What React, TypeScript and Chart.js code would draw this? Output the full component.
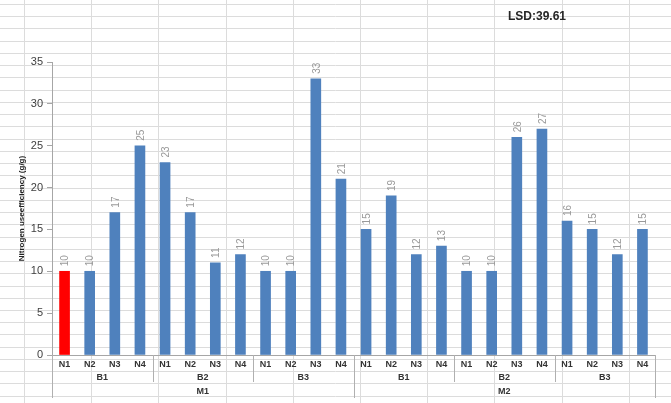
import React, { useEffect, useRef } from "react";
import { Chart, registerables } from "chart.js";

Chart.register(...registerables);

const nLabels = ["N1", "N2", "N3", "N4", "N1", "N2", "N3", "N4", "N1", "N2", "N3", "N4", "N1", "N2", "N3", "N4", "N1", "N2", "N3", "N4", "N1", "N2", "N3", "N4"];
const bLabels = ["B1", "B2", "B3", "B1", "B2", "B3"];
const mLabels = ["M1", "M2"];
const values = [10, 10, 17, 25, 23, 17, 11, 12, 10, 10, 33, 21, 15, 19, 12, 13, 10, 10, 26, 27, 16, 15, 12, 15];
const yTicks = [0, 5, 10, 15, 20, 25, 30, 35];
const lsdText = "LSD:39.61";
const yTitle = "Nitrogen useefficiency (g/g)";

const BLUE = "#4F81BD";
const RED = "#FF0000";

const sheetGrid = {
  id: "sheetGrid",
  beforeDraw(chart: any) {
    const { ctx, width, height } = chart;
    ctx.save();
    ctx.fillStyle = "#ffffff";
    ctx.fillRect(0, 0, width, height);
    ctx.strokeStyle = "#dcdcdc";
    ctx.lineWidth = 1;
    for (let y = 4; y < height; y += 12.24) {
      const yy = Math.round(y) + 0.5;
      ctx.beginPath();
      ctx.moveTo(0, yy);
      ctx.lineTo(width, yy);
      ctx.stroke();
    }
    for (let x = 24; x < width; x += 67.2) {
      const xx = Math.round(x) + 0.5;
      ctx.beginPath();
      ctx.moveTo(xx, 0);
      ctx.lineTo(xx, height);
      ctx.stroke();
    }
    ctx.fillStyle = "#262626";
    ctx.font = "bold 12px 'Liberation Sans', Arial, sans-serif";
    ctx.textAlign = "left";
    ctx.textBaseline = "middle";
    ctx.fillText(lsdText, 508, 17);
    ctx.restore();
  },
};

const valueLabels = {
  id: "valueLabels",
  afterDatasetsDraw(chart: any) {
    const { ctx } = chart;
    const meta = chart.getDatasetMeta(0);
    ctx.save();
    ctx.fillStyle = "#9a9a9a";
    ctx.font = "10px 'Liberation Sans', Arial, sans-serif";
    ctx.textAlign = "left";
    ctx.textBaseline = "middle";
    meta.data.forEach((bar: any, i: number) => {
      ctx.save();
      ctx.translate(bar.x + 1, bar.y - 5);
      ctx.rotate(-Math.PI / 2);
      ctx.fillText(String(values[i]), 0, 0);
      ctx.restore();
    });
    ctx.restore();
  },
};

const multiLevel = {
  id: "multiLevel",
  afterDraw(chart: any) {
    const { ctx, chartArea } = chart;
    const xs = chart.scales.x;
    const n = values.length;
    const boundary = (i: number) => {
      if (i <= 0) return chartArea.left;
      if (i >= n) return chartArea.right;
      return (xs.getPixelForValue(i - 1) + xs.getPixelForValue(i)) / 2;
    };
    const top = xs.top;
    ctx.save();
    ctx.strokeStyle = "#b0b0b0";
    ctx.lineWidth = 1;
    for (let i = 0; i <= n; i += 4) {
      const isM = i % 12 === 0;
      const x = Math.round(boundary(i)) + 0.5;
      ctx.beginPath();
      ctx.moveTo(x, top);
      ctx.lineTo(x, isM ? top + 43 : top + 27);
      ctx.stroke();
    }
    ctx.fillStyle = "#333333";
    ctx.font = "bold 9px 'Liberation Sans', Arial, sans-serif";
    ctx.textAlign = "center";
    ctx.textBaseline = "middle";
    bLabels.forEach((lab, g) => {
      const cx = (xs.getPixelForValue(g * 4) + xs.getPixelForValue(g * 4 + 3)) / 2;
      ctx.fillText(lab, cx, top + 23);
    });
    mLabels.forEach((lab, g) => {
      const cx = (xs.getPixelForValue(g * 12) + xs.getPixelForValue(g * 12 + 11)) / 2;
      ctx.fillText(lab, cx, top + 37);
    });
    ctx.restore();
  },
};

export default function App() {
  const ref = useRef<HTMLCanvasElement | null>(null);
  useEffect(() => {
    if (!ref.current) return;
    const chart = new Chart(ref.current, {
      type: "bar",
      data: {
        labels: nLabels,
        datasets: [
          {
            data: values,
            backgroundColor: values.map((_, i) => (i === 0 ? RED : BLUE)),
            barThickness: 10,
          },
        ],
      },
      options: {
        animation: false,
        responsive: false,
        layout: { padding: { top: 62, right: 16, left: 0, bottom: 0 } },
        plugins: { legend: { display: false }, tooltip: { enabled: false } },
        scales: {
          x: {
            grid: { display: false, drawTicks: false },
            border: { display: true, color: "#a6a6a6" },
            ticks: {
              color: "#333333",
              font: { family: "'Liberation Sans', Arial, sans-serif", size: 9, weight: "bold" },
              padding: 4,
              maxRotation: 0,
              autoSkip: false,
            },
            afterFit: (s: any) => {
              s.height = 48;
            },
          },
          y: {
            min: 0,
            max: 35,
            afterBuildTicks: (s: any) => {
              s.ticks = yTicks.map((v) => ({ value: v }));
            },
            grid: { drawOnChartArea: false, color: "#a6a6a6", tickLength: 5 },
            border: { display: true, color: "#a6a6a6" },
            ticks: {
              color: "#404040",
              font: { family: "'Liberation Sans', Arial, sans-serif", size: 11 },
              padding: 4,
            },
            title: {
              display: true,
              text: yTitle,
              color: "#222222",
              font: { family: "'Liberation Sans', Arial, sans-serif", size: 8, weight: "bold" },
              padding: { top: 17, bottom: 0 },
            },
            afterFit: (s: any) => {
              s.width = 52;
            },
          },
        },
      },
      plugins: [sheetGrid, valueLabels, multiLevel],
    });
    return () => chart.destroy();
  }, []);
  return (
    <div style={{ position: "fixed", left: 0, top: 0, width: 671, height: 403 }}>
      <canvas ref={ref} width={671} height={403} style={{ display: "block" }} />
    </div>
  );
}
